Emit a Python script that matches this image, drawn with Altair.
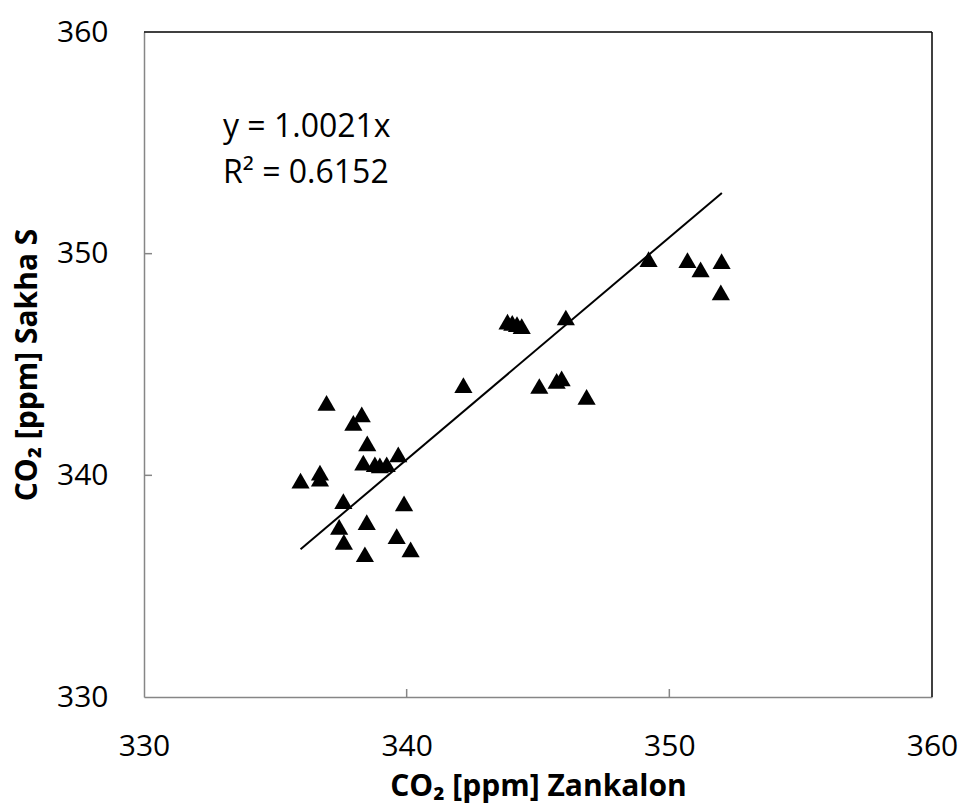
import altair as alt
import pandas as pd

# --- data ---
x_vals = [336.95, 338.29, 337.97, 338.50, 338.35, 338.79, 338.98, 339.24, 339.68,
          335.96, 336.70, 336.70, 337.59, 339.90, 337.43, 338.48, 337.61, 339.62,
          338.41, 340.15,
          342.16, 343.84, 344.02, 344.20, 344.38, 346.06, 345.05, 345.71, 345.90,
          346.85, 349.21, 350.69, 351.19, 351.99, 351.96]
y_vals = [343.27, 342.75, 342.37, 341.44, 340.57, 340.50, 340.45, 340.50, 340.95,
          339.76, 340.12, 339.85, 338.84, 338.74, 337.68, 337.89, 337.00, 337.26,
          336.44, 336.66,
          344.07, 346.93, 346.88, 346.82, 346.73, 347.12, 344.03, 344.26, 344.37,
          343.54, 349.75, 349.71, 349.29, 349.66, 348.25]
slope = 1.0021
fit_x = [335.96, 352.0]
tick_vals = [340, 350]
eq_lines = ["y = 1.0021x", "R² = 0.6152"]

W, H = 788, 665
FONT = "Open Sans"
GRAY = "#868686"

pts = pd.DataFrame({"x": x_vals, "y": y_vals})
fit = pd.DataFrame({"x": fit_x, "y": [slope * v for v in fit_x]})
ticks = pd.DataFrame({"v": tick_vals})
one = pd.DataFrame({"a": [0]})

xscale = alt.Scale(domain=[330, 360], nice=False, zero=False)
yscale = alt.Scale(domain=[330, 360], nice=False, zero=False)

xaxis = alt.Axis(values=[330, 340, 350, 360], ticks=False, grid=False,
                 domainColor=GRAY, domainWidth=1.5, labelFont=FONT, labelFontSize=30,
                 labelColor="black", labelPadding=34, labelFlush=False,
                 title="CO₂ [ppm] Zankalon", titleFont=FONT, titleFontSize=30,
                 titleFontWeight="bold", titleColor="black", titlePadding=10)
yaxis = alt.Axis(values=[330, 340, 350, 360], ticks=False, grid=False,
                 domainColor=GRAY, domainWidth=1.5, labelFont=FONT, labelFontSize=30,
                 labelColor="black", labelPadding=36, labelFlush=False,
                 title="CO₂ [ppm] Sakha S", titleFont=FONT, titleFontSize=30,
                 titleFontWeight="bold", titleColor="black", titlePadding=14)

points = alt.Chart(pts).mark_point(shape="triangle-up", filled=True, color="black",
                                   opacity=1, size=330).encode(
    x=alt.X("x:Q", scale=xscale, axis=xaxis),
    y=alt.Y("y:Q", scale=yscale, axis=yaxis),
)

line = alt.Chart(fit).mark_line(color="black", strokeWidth=2).encode(
    x=alt.X("x:Q", scale=xscale),
    y=alt.Y("y:Q", scale=yscale),
)

xticks = alt.Chart(ticks).mark_rule(color=GRAY, strokeWidth=1.5).encode(
    x=alt.X("v:Q", scale=xscale), y=alt.value(H), y2=alt.value(H - 8))
yticks = alt.Chart(ticks).mark_rule(color=GRAY, strokeWidth=1.5).encode(
    y=alt.Y("v:Q", scale=yscale), x=alt.value(0), x2=alt.value(8))

top_border = alt.Chart(one).mark_rule(color="black", strokeWidth=1.5).encode(
    x=alt.value(0), x2=alt.value(W), y=alt.value(0))
right_border = alt.Chart(one).mark_rule(color="black", strokeWidth=1.5).encode(
    x=alt.value(W), y=alt.value(0), y2=alt.value(H))

eq1 = alt.Chart(one).mark_text(text=eq_lines[0], align="left", baseline="alphabetic",
                               font=FONT, fontSize=32, color="black").encode(
    x=alt.value(79), y=alt.value(105))
eq2 = alt.Chart(one).mark_text(text=eq_lines[1], align="left", baseline="alphabetic",
                               font=FONT, fontSize=32, color="black").encode(
    x=alt.value(79), y=alt.value(151))

chart = alt.layer(points, line, xticks, yticks, top_border, right_border, eq1, eq2).properties(
    width=W, height=H,
    autosize=alt.AutoSizeParams(type="none"),
    padding={"left": 144, "top": 32, "right": 28, "bottom": 110},
    background="white",
).configure_view(stroke=None)

chart.save("out.html", embed_options={"renderer": "svg", "actions": False})
